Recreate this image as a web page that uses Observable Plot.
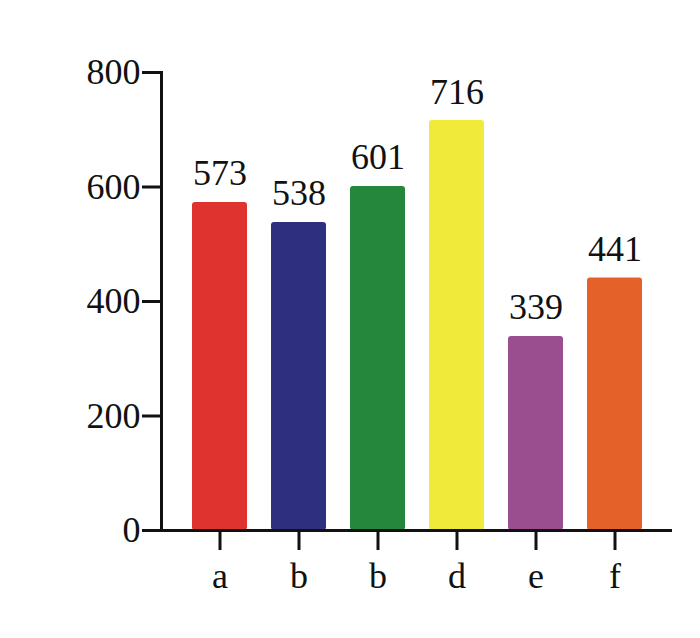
<!DOCTYPE html>
<html>
<head>
<meta charset="utf-8">
<script src="https://cdn.jsdelivr.net/npm/d3@7"></script>
<script src="https://cdn.jsdelivr.net/npm/@observablehq/plot@0.6"></script>
<style>
  html, body { margin: 0; padding: 0; background: #fff; }
  svg { display: block; }
  svg text { font-family: "Liberation Serif", "Times New Roman", serif !important; }
</style>
</head>
<body>
<div id="chart"></div>
<script>
const keys = ["a", "b1", "b2", "d", "e", "f"];
const labels = ["a", "b", "b", "d", "e", "f"];
const values = [573, 538, 601, 716, 339, 441];
const colors = ["#df3330", "#2e2f7e", "#25873c", "#f0ea3b", "#9a4e90", "#e4612a"];
const yTicks = [0, 200, 400, 600, 800];

const data = keys.map((k, i) => ({key: k, label: labels[i], value: values[i]}));
const labelOf = new Map(keys.map((k, i) => [k, labels[i]]));
const serif = "'Liberation Serif', 'Times New Roman', serif";

const chart = Plot.plot({
  width: 700,
  height: 638,
  marginLeft: 161,
  marginRight: 28,
  marginTop: 72,
  marginBottom: 108,
  style: {fontFamily: serif, fontSize: "36px", color: "#111"},
  x: {domain: keys, paddingInner: 0.31, paddingOuter: 0.35, label: null},
  y: {domain: [0, 800], label: null},
  color: {domain: keys, range: colors},
  marks: [
    Plot.barY(data, {x: "key", y: "value", fill: "key", rx: 3}),
    Plot.text(data, {x: "key", y: "value", text: d => String(d.value), lineAnchor: "bottom", dy: -17, fontSize: 36, fontFamily: serif, fill: "#111"}),
    Plot.frame({anchor: "left", stroke: "#111", strokeWidth: 3}),
    Plot.ruleY([0], {stroke: "#111", strokeWidth: 3, insetLeft: -19}),
    Plot.axisY({ticks: yTicks, tickSize: 19, tickPadding: 2, strokeWidth: 3, stroke: "#111", fontSize: 36, fontFamily: serif, label: null}),
    Plot.axisX({tickSize: 20, tickPadding: 12, strokeWidth: 3, stroke: "#111", fontSize: 36, fontFamily: serif, tickFormat: k => labelOf.get(k), label: null})
  ]
});
document.getElementById("chart").appendChild(chart);
</script>
</body>
</html>
